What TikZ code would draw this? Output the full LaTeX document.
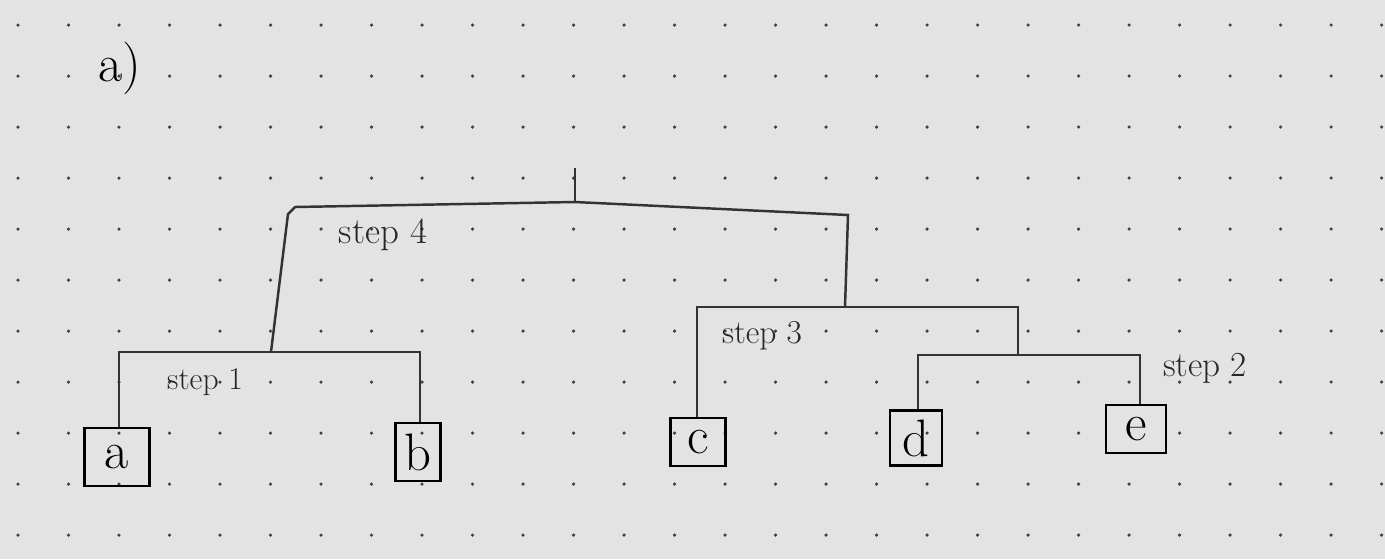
\documentclass[tikz,border=0pt]{standalone}
\begin{document}
\begin{tikzpicture}[x=0.02cm,y=-0.02cm,
  leaf/.style={draw, line width=1.2pt, inner sep=0pt, font=\fontsize{30}{30}\selectfont},
  link/.style={line width=1.4pt, draw=black!80},
  steplabel/.style={font=\fontsize{21}{21}\selectfont, text=black!85},
  griddot/.style={fill=black!75}]
\fill[gray!22] (0,0) rectangle (1385,559);
\useasboundingbox (0,0) rectangle (1385,559);
% dotted paper
\foreach \i in {0,...,27} {
  \foreach \j in {0,...,10} {
    \fill[griddot] ({18+50.5*\i},{25+51*\j}) circle (1pt);
  }
}
% title
\node[font=\fontsize{30}{30}\selectfont] (title) at (120,68) {a)};
% leaves
\node[leaf, minimum width=1.3cm, minimum height=1.15cm] (a) at (117,457) {a};
\node[leaf, minimum width=0.9cm, minimum height=1.15cm] (b) at (418,452) {b};
\node[leaf, minimum width=1.1cm, minimum height=0.95cm] (c) at (698,442) {c};
\node[leaf, minimum width=1.05cm, minimum height=1.1cm] (d) at (916,438) {d};
\node[leaf, minimum width=1.2cm, minimum height=0.95cm] (e) at (1136,429) {e};
% junction coordinates
\coordinate (s1l) at (119,352);
\coordinate (s1r) at (420,352);
\coordinate (s1m) at (271,352);
\coordinate (s2l) at (918,355);
\coordinate (s2r) at (1140,355);
\coordinate (s2m) at (1018,355);
\coordinate (s3l) at (697,307);
\coordinate (s3r) at (1018,307);
\coordinate (s3m) at (845,307);
\coordinate (s4k) at (288,214);
\coordinate (s4l) at (295,207);
\coordinate (s4r) at (848,215);
\coordinate (s4m) at (575,202);
\coordinate (root) at (575,168);
% step 1
\draw[link] (a.north -| s1l) -- (s1l) -- (s1r) -- (b.north -| s1r);
% step 2
\draw[link] (d.north -| s2l) -- (s2l) -- (s2r) -- (e.north -| s2r);
% step 3
\draw[link] (c.north -| s3l) -- (s3l) -- (s3r) -- (s2m);
% step 4
\draw[link] (s1m) -- (s4k) -- (s4l) -- (s4m) -- (s4r) -- (s3m);
\draw[link] (root) -- (s4m);
% labels
\node[steplabel] (l4) at (383,235) {step 4};
\node[steplabel, font=\fontsize{18}{18}\selectfont] (l1) at (205,382) {step 1};
\node[steplabel, font=\fontsize{19}{19}\selectfont] (l3) at (762,336) {step 3};
\node[steplabel, font=\fontsize{20}{20}\selectfont] (l2) at (1205,368) {step 2};
\end{tikzpicture}
\end{document}
